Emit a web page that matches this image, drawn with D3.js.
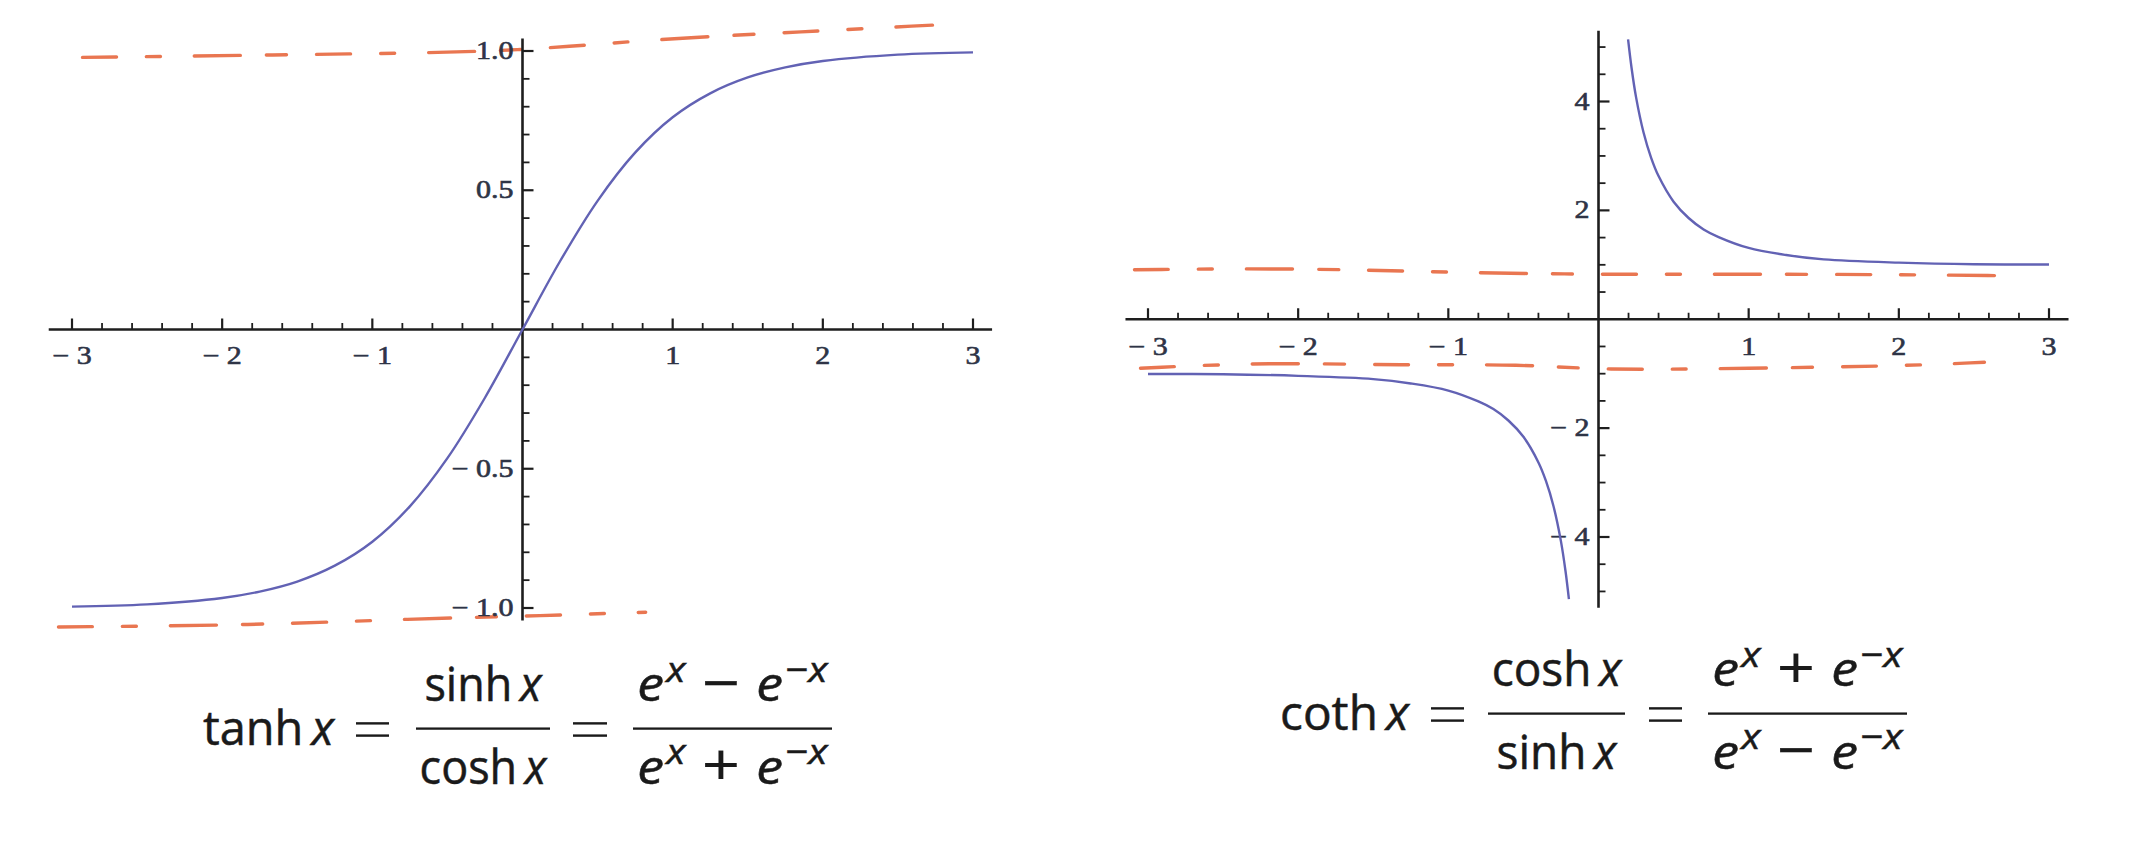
<!DOCTYPE html>
<html><head><meta charset="utf-8">
<script src="https://cdn.jsdelivr.net/npm/d3@7"></script>
<style>html,body{margin:0;padding:0;background:#fff;} svg{display:block}</style>
</head><body>
<script>
// ---------------- data ----------------
const tanhX = [-3,-2.5,-2,-1.75,-1.5,-1.25,-1,-0.75,-0.5,-0.25,0,0.25,0.5,0.75,1,1.25,1.5,1.75,2,2.5,3];
const tanhY = [-0.995,-0.987,-0.964,-0.941,-0.905,-0.848,-0.762,-0.635,-0.462,-0.245,0,0.245,0.462,0.635,0.762,0.848,0.905,0.941,0.964,0.987,0.995];

const cothPosX = [0.197,0.22,0.25,0.3,0.35,0.4,0.5,0.6,0.7,0.8,1,1.25,1.5,2,2.5,3];
const cothPosY = [5.14,4.62,4.08,3.43,2.97,2.63,2.16,1.86,1.65,1.51,1.31,1.18,1.10,1.04,1.01,1.005];
const cothNegX = [-3,-2.5,-2,-1.5,-1.25,-1,-0.8,-0.7,-0.6,-0.5,-0.4,-0.35,-0.3,-0.25,-0.22,-0.197];
const cothNegY = [-1.005,-1.01,-1.04,-1.10,-1.18,-1.31,-1.51,-1.65,-1.86,-2.16,-2.63,-2.97,-3.43,-4.08,-4.62,-5.14];

// hand-drawn orange asymptote strokes
const tanhTopAsyX = [-2.93,-1.0,0,0.8,1.9,2.73];
const tanhTopAsyY = [0.977,0.99,1.0,1.04,1.07,1.093];
const tanhBotAsyX = [-3.09,-1.8,-0.7,0.0,0.82];
const tanhBotAsyY = [-1.068,-1.062,-1.038,-1.03,-1.015];
const cothTopAsyX = [-3.09,-2.0,-1.0,0,1.0,2.0,2.71];
const cothTopAsyY = [0.91,0.94,0.86,0.82,0.83,0.82,0.80];
const cothBotAsyX = [-3.05,-2.2,-1.3,-0.5,0,1.0,2.0,2.57];
const cothBotAsyY = [-0.90,-0.79,-0.85,-0.82,-0.94,-0.90,-0.86,-0.79];

// ticks
const xTicks = [-3,-2,-1,1,2,3];
const xTickLabels = ["\u2212 3","\u2212 2","\u2212 1","1","2","3"];
const tanhYTicks = [-1,-0.5,0.5,1];
const tanhYTickLabels = ["\u2212 1.0","\u2212 0.5","0.5","1.0"];
const cothYTicks = [-4,-2,2,4];
const cothYTickLabels = ["\u2212 4","\u2212 2","2","4"];

// ---------------- drawing ----------------
const W = 2138, H = 850;
const svg = d3.select("body").append("svg").attr("width", W).attr("height", H);
svg.append("rect").attr("width", W).attr("height", H).attr("fill", "#fff");

const BLUE = "#6262b4", ORANGE = "#e4582b", AXIS = "#1e1e1e", LABEL = "#2e3446";
const zip = (a, b) => a.map((v, i) => [v, b[i]]);

function plot(cfg) {
  const x = d3.scaleLinear().domain([-3, 3]).range(cfg.xRange);
  const y = d3.scaleLinear().domain(cfg.yDom).range(cfg.yRange);
  const g = svg.append("g");
  const ax = x(0), ay = y(0);

  // orange hand-drawn asymptotes (behind)
  const asy = d3.line().x(d => x(d[0])).y(d => y(d[1])).curve(d3.curveBasis);
  cfg.asym.forEach(a => {
    g.append("path").attr("d", asy(a)).attr("fill", "none")
      .attr("stroke", ORANGE).attr("stroke-width", 3.4).attr("stroke-linecap", "round")
      .attr("stroke-dasharray", "34 30 14 34 46 26 20 30").attr("opacity", 0.82);
  });

  // axes
  g.append("line").attr("x1", x(cfg.xExt[0])).attr("x2", x(cfg.xExt[1]))
    .attr("y1", ay).attr("y2", ay).attr("stroke", AXIS).attr("stroke-width", 2.6);
  g.append("line").attr("x1", ax).attr("x2", ax)
    .attr("y1", y(cfg.yExt[0])).attr("y2", y(cfg.yExt[1])).attr("stroke", AXIS).attr("stroke-width", 2.6);

  // x ticks (upwards)
  const xMinor = d3.range(-15, 16).map(i => i / 5).filter(v => Math.abs(v) > 1e-9);
  xMinor.forEach(v => {
    const major = Math.abs(v - Math.round(v)) < 1e-9;
    g.append("line").attr("x1", x(v)).attr("x2", x(v)).attr("y1", ay).attr("y2", ay - (major ? 11 : 6.5))
      .attr("stroke", AXIS).attr("stroke-width", major ? 2.2 : 1.8);
  });
  // y ticks (rightwards)
  cfg.yMinor.forEach(v => {
    const major = cfg.yMajor.includes(v);
    g.append("line").attr("x1", ax).attr("x2", ax + (major ? 11 : 7)).attr("y1", y(v)).attr("y2", y(v))
      .attr("stroke", AXIS).attr("stroke-width", major ? 2.2 : 1.8);
  });

  // tick labels (picture is horizontally stretched)
  const lab = (sel) => sel.attr("font-family", "'Liberation Serif', 'DejaVu Serif', serif").attr("font-size", 25)
    .attr("fill", LABEL).attr("stroke", LABEL).attr("stroke-width", 0.6);
  xTicks.forEach((v, i) => {
    lab(g.append("text").attr("transform", `translate(${x(v)},${ay + cfg.xLabDy}) scale(1.2,1)`)
      .attr("text-anchor", "middle")).text(xTickLabels[i]);
  });
  cfg.yMajor.forEach((v, i) => {
    lab(g.append("text").attr("transform", `translate(${ax - 9},${y(v) + 8}) scale(1.2,1)`)
      .attr("text-anchor", "end")).text(cfg.yLabels[i]);
  });

  // curves
  const line = d3.line().x(d => x(d[0])).y(d => y(d[1])).curve(d3.curveCatmullRom.alpha(0.5));
  cfg.curves.forEach(c => {
    g.append("path").attr("d", line(c)).attr("fill", "none").attr("stroke", BLUE)
      .attr("stroke-width", 2.4).attr("stroke-linejoin", "round");
  });
}

plot({
  xRange: [72, 973], yDom: [-1, 1], yRange: [608, 51],
  xExt: [-3.155, 3.127], yExt: [-1.045, 1.045],
  yMinor: d3.range(-10, 11).map(i => i / 10).filter(v => v !== 0),
  yMajor: tanhYTicks, yLabels: tanhYTickLabels, xLabDy: 34,
  curves: [zip(tanhX, tanhY)],
  asym: [zip(tanhTopAsyX, tanhTopAsyY), zip(tanhBotAsyX, tanhBotAsyY)]
});
plot({
  xRange: [1148, 2049], yDom: [-4, 4], yRange: [537, 101.5],
  xExt: [-3.15, 3.13], yExt: [-5.3, 5.3],
  yMinor: d3.range(-10, 11).map(i => i / 2).filter(v => v !== 0),
  yMajor: cothYTicks, yLabels: cothYTickLabels, xLabDy: 36,
  curves: [zip(cothPosX, cothPosY), zip(cothNegX, cothNegY)],
  asym: [zip(cothTopAsyX, cothTopAsyY), zip(cothBotAsyX, cothBotAsyY)]
});

// ---------------- formulas ----------------
const FONT = "Open Sans, sans-serif";
const INK = "#1a1a1a";
const M = "\u2212";
function row(g, items, fs) {
  let cx = 0;
  items.forEach(it => {
    cx += (it.gap || 0) * fs;
    const size = it.sup ? fs * 0.75 : (it.big ? fs * 1.25 : fs);
    const t = g.append("text").attr("x", cx).attr("y", it.sup ? -0.42 * fs : (it.big ? 0.06 * fs : 0))
      .attr("font-size", size).attr("font-family", FONT).attr("fill", INK)
      .attr("stroke", INK).attr("stroke-width", it.big ? 0.2 : 0.5)
      .attr("font-style", it.it ? "italic" : "normal").text(it.s);
    cx += t.node().getComputedTextLength() + (it.after || 0) * fs;
  });
  return cx;
}
// each block is fitted into its own horizontal slot [x0, x1]
function formula(blocks, baseY, fs) {
  blocks.forEach(b => {
    const [x0, x1] = b.at;
    const outer = svg.append("g");
    const g = outer.append("g");
    let w;
    if (b.row) {
      w = row(g, b.row, fs);
    } else if (b.eq) {
      w = x1 - x0;
      [-0.2, -0.46].forEach(dy => g.append("rect").attr("x", 0).attr("y", dy * fs - 1.2)
        .attr("width", w).attr("height", 2.4).attr("fill", INK));
    } else if (b.frac) {
      const ng = g.append("g"), dg = g.append("g");
      const nw = row(ng, b.frac[0], fs), dw = row(dg, b.frac[1], fs);
      w = Math.max(nw, dw) + 0.16 * fs;
      ng.attr("transform", `translate(${(w - nw) / 2},${-0.93 * fs})`);
      dg.attr("transform", `translate(${(w - dw) / 2},${0.82 * fs})`);
      g.append("rect").attr("x", 0).attr("y", -0.35 * fs - 1.1).attr("width", w).attr("height", 2.3).attr("fill", INK);
    }
    outer.attr("transform", `translate(${x0},${baseY}) scale(${(x1 - x0) / w},1)`);
  });
}
const eX = [{ s: "e", it: 1 }, { s: "x", it: 1, sup: 1, gap: 0.04 }];
const eMX = [{ s: "e", it: 1, gap: 0.3 }, { s: M, sup: 1, gap: 0.04 }, { s: "x", it: 1, sup: 1 }];
const fn = (f) => [{ s: f }, { s: "x", it: 1, gap: 0.17 }];
const op = (s) => ({ s: s, gap: 0.3, big: 1 });

formula([
  { row: fn("tanh"), at: [203, 334] },
  { eq: 1, at: [356, 389] },
  { frac: [fn("sinh"), fn("cosh")], at: [416, 550] },
  { eq: 1, at: [573, 607] },
  { frac: [[...eX, op(M), ...eMX], [...eX, op("+"), ...eMX]], at: [633, 832] }
], 745, 47);

formula([
  { row: fn("coth"), at: [1280, 1409] },
  { eq: 1, at: [1431, 1464] },
  { frac: [fn("cosh"), fn("sinh")], at: [1488, 1625] },
  { eq: 1, at: [1649, 1682] },
  { frac: [[...eX, op("+"), ...eMX], [...eX, op(M), ...eMX]], at: [1708, 1907] }
], 730, 47);
</script>
</body></html>
